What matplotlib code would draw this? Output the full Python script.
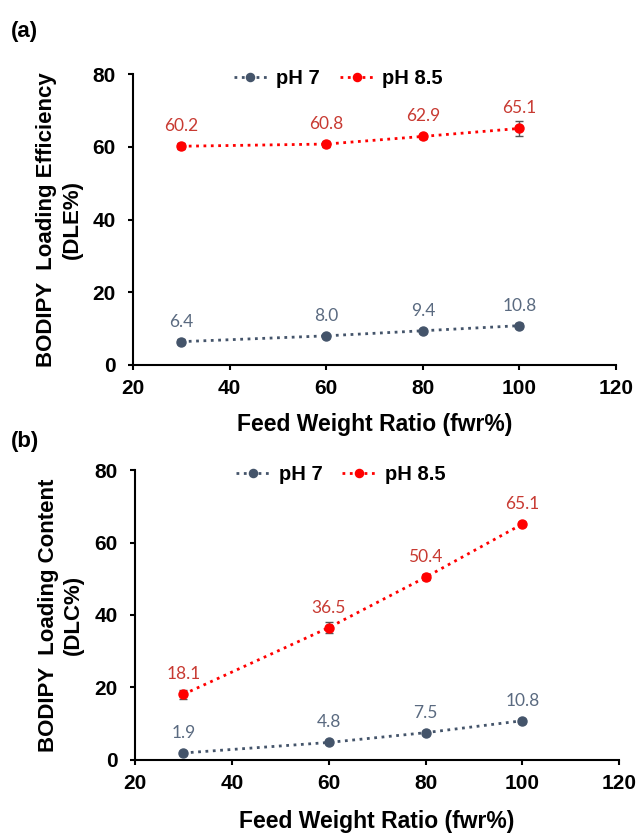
import matplotlib
matplotlib.use("Agg")
import matplotlib.pyplot as plt

fwr = [30, 60, 80, 100]
dle_ph7 = [6.4, 8.0, 9.4, 10.8]
dle_ph85 = [60.2, 60.8, 62.9, 65.1]
dle_ph7_err = [0.6, 0.5, 0.5, 0.6]
dle_ph85_err = [0.8, 0.8, 0.7, 2.0]
dlc_ph7 = [1.9, 4.8, 7.5, 10.8]
dlc_ph85 = [18.1, 36.5, 50.4, 65.1]
dlc_ph7_err = [0.5, 0.5, 0.6, 0.6]
dlc_ph85_err = [1.3, 1.5, 0.8, 0.6]
series_labels = ["pH 7", "pH 8.5"]
xticks = [20, 40, 60, 80, 100, 120]
yticks = [0, 20, 40, 60, 80]

C7 = "#44546A"
C85 = "#FF0000"
T7 = "#5A6A80"
T85 = "#C83A32"

plt.rcParams['font.family'] = ['Liberation Sans', 'DejaVu Sans']

fig = plt.figure(figsize=(6.37, 8.35), dpi=100)
ax1 = fig.add_axes([0.209, 0.563, 0.758, 0.348])
ax2 = fig.add_axes([0.212, 0.090, 0.760, 0.347])

def draw(ax, y7, e7, y85, e85, ylabel, xl_y):
    for y, e, c, tc, lab in [(y7, e7, C7, T7, series_labels[0]), (y85, e85, C85, T85, series_labels[1])]:
        ax.errorbar(fwr, y, yerr=e, fmt='none', ecolor='#555555', elinewidth=1, capsize=3, capthick=1, zorder=2)
        ax.plot(fwr, y, linestyle=':', color=c, linewidth=2, marker='o', markersize=6.5,
                markeredgecolor=c, markerfacecolor=c, label=lab, zorder=3)
        for xi, yi in zip(fwr, y):
            ax.annotate(f"{yi:.1f}", (xi, yi), xytext=(0, 14.5), textcoords='offset points',
                        ha='center', va='center', color=tc, fontsize=12.5, family=['Lato', 'DejaVu Sans'])
    ax.set_xlim(20, 120)
    ax.set_ylim(0, 80)
    ax.set_xticks(xticks)
    ax.set_yticks(yticks)
    for s in ['top', 'right']:
        ax.spines[s].set_visible(False)
    for s in ['left', 'bottom']:
        ax.spines[s].set_linewidth(1.5)
    ax.tick_params(axis='both', direction='out', width=1.5, length=3.5, labelsize=15)
    ax.tick_params(axis='y', pad=9)
    ax.tick_params(axis='x', pad=7)
    for t in ax.get_xticklabels() + ax.get_yticklabels():
        t.set_fontweight('bold')
    ax.set_xlabel("Feed Weight Ratio (fwr%)", fontsize=16.5, fontweight='bold', va='center')
    ax.xaxis.set_label_coords(0.5, xl_y)
    ax.set_ylabel(ylabel, fontsize=16, fontweight='bold', linespacing=1.25)
    ax.yaxis.set_label_coords(-0.105, 0.5)
    ax.legend(loc='center', bbox_to_anchor=(0.425, 0.985), ncol=2, frameon=False,
              prop={'weight': 'bold', 'size': 14.5}, handlelength=1.65, handletextpad=0.45,
              columnspacing=1.0, markerscale=0.9)

draw(ax1, dle_ph7, dle_ph7_err, dle_ph85, dle_ph85_err, "BODIPY  Loading Efficiency\n(DLE%)", -0.206)
draw(ax2, dlc_ph7, dlc_ph7_err, dlc_ph85, dlc_ph85_err, "BODIPY  Loading Content\n(DLC%)", -0.214)

fig.text(0.017, 0.962, "(a)", fontsize=16, fontweight='bold', va='center')
fig.text(0.017, 0.471, "(b)", fontsize=16, fontweight='bold', va='center')

fig.savefig("out.png", dpi=100)
